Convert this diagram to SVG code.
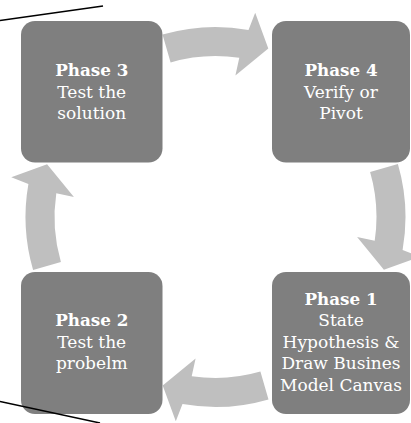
<svg xmlns="http://www.w3.org/2000/svg" width="411" height="423" viewBox="0 0 411 423">
  <style>
    .box { fill: #7f7f7f; }
    .arrow { fill: #bfbfbf; }
    .t { font-family: "DejaVu Serif", "Liberation Serif", serif; font-size: 17px; fill: #ffffff; text-anchor: middle; }
    .b { font-weight: bold; font-size: 16.75px; }
    .line { stroke: #000000; stroke-width: 1.5; fill: none; }
  </style>
  <defs>
    <path id="arc-arrow" d="M162.5,34.6 A190,190 0 0 1 248.5,29.9 L255.2,12.8 L268.3,48.6 L235.4,75.4 L239.3,57.8 A161,161 0 0 0 170.6,62.4 Z"/>
  </defs>
  <rect width="411" height="423" fill="#ffffff"/>
  <g id="connectors">
    <use href="#arc-arrow" class="arrow"/>
    <use href="#arc-arrow" class="arrow" transform="rotate(90 215.5 217)"/>
    <use href="#arc-arrow" class="arrow" transform="rotate(180 215.5 217)"/>
    <use href="#arc-arrow" class="arrow" transform="rotate(270 215.5 217)"/>
  </g>
  <g id="phase3">
    <rect class="box" x="21" y="21" width="141.5" height="141.5" rx="14"/>
    <text class="t" x="91.75"><tspan class="b" x="91.75" y="76">Phase 3</tspan><tspan x="91.75" y="97.5">Test the</tspan><tspan x="91.75" y="119">solution</tspan></text>
  </g>
  <g id="phase4">
    <rect class="box" x="272" y="21" width="138" height="141.5" rx="14"/>
    <text class="t" x="341"><tspan class="b" x="341" y="76">Phase 4</tspan><tspan x="341" y="97.5">Verify or</tspan><tspan x="341" y="119">Pivot</tspan></text>
  </g>
  <g id="phase2">
    <rect class="box" x="21" y="272" width="141.5" height="142" rx="14"/>
    <text class="t" x="91.75"><tspan class="b" x="91.75" y="326">Phase 2</tspan><tspan x="91.75" y="347.5">Test the</tspan><tspan x="91.75" y="369">probelm</tspan></text>
  </g>
  <g id="phase1">
    <rect class="box" x="272" y="272" width="138" height="142" rx="14"/>
    <text class="t" x="341"><tspan class="b" x="341" y="304.5">Phase 1</tspan><tspan x="341" y="326">State</tspan><tspan x="341" y="347.5">Hypothesis &amp;</tspan><tspan x="341" y="369">Draw Busines</tspan><tspan x="341" y="390.5">Model Canvas</tspan></text>
  </g>
  <g id="lines">
    <line class="line" x1="0" y1="20.5" x2="103" y2="6"/>
    <line class="line" x1="0" y1="401.5" x2="100" y2="423"/>
  </g>
</svg>
